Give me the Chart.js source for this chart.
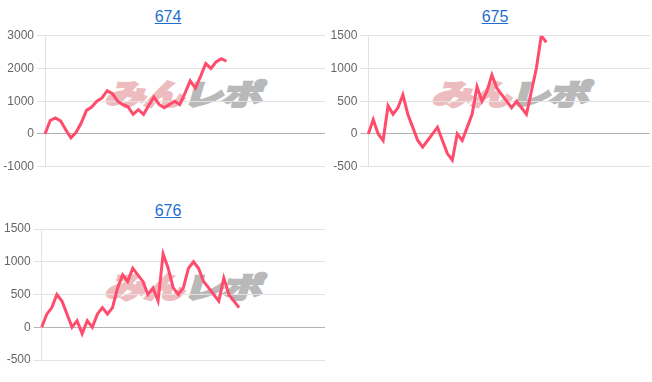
<!DOCTYPE html>
<html><head><meta charset="utf-8">
<script src="https://cdn.jsdelivr.net/npm/chart.js@4/dist/chart.umd.min.js"></script>
<style>
html,body{margin:0;padding:0;background:#fff;width:652px;height:382px;overflow:hidden;}
.ttl{position:absolute;width:100px;text-align:center;font-family:"Liberation Sans",Arial,sans-serif;font-size:16px;line-height:16px;}
.ttl a{color:#1f6fd1;text-decoration:underline;}
.wm{position:absolute;width:180px;height:40px;font-family:"Noto Sans CJK JP",sans-serif;font-weight:bold;font-size:40px;line-height:40px;white-space:nowrap;transform:skewX(-16deg) scaleY(0.72);transform-origin:left center;letter-spacing:-1px;}
.wm .p{color:#edbcbf;-webkit-text-stroke:4px #edbcbf;}
.wm .g{color:#b9b9b9;-webkit-text-stroke:4px #b9b9b9;}
canvas{position:absolute;}
</style></head>
<body>
<div class="wm" style="left:108px;top:73px;"><span class="p">みん</span><span class="g">レポ</span></div>
<div class="wm" style="left:435px;top:73px;"><span class="p">みん</span><span class="g">レポ</span></div>
<div class="wm" style="left:108px;top:266px;"><span class="p">みん</span><span class="g">レポ</span></div>

<div class="ttl" style="left:118px;top:9px;"><a href="#">674</a></div>
<div class="ttl" style="left:445px;top:9px;"><a href="#">675</a></div>
<div class="ttl" style="left:118px;top:203px;"><a href="#">676</a></div>

<canvas id="c674" width="330" height="160" style="left:0;top:20px;"></canvas>
<canvas id="c675" width="326" height="160" style="left:326px;top:20px;"></canvas>
<canvas id="c676" width="330" height="160" style="left:0;top:213px;"></canvas>

<script>
// Series values (difference per sample)
const titles = ["674", "675", "676"];
const values674 = [0, 410, 490, 400, 130, -120, 50, 340, 720, 820, 1000, 1100, 1320, 1230, 1000, 900, 830, 600, 740, 600, 870, 1130, 900, 800, 900, 1000, 900, 1250, 1620, 1400, 1760, 2150, 2000, 2200, 2300, 2220];
const values675 = [0, 220, 0, -100, 430, 300, 400, 600, 300, 100, -100, -200, -100, 0, 100, -100, -300, -400, 0, -100, 100, 300, 720, 500, 650, 900, 700, 600, 500, 400, 500, 400, 300, 650, 1000, 1500, 1400];
const values676 = [0, 200, 300, 500, 400, 200, 0, 100, -100, 100, 0, 200, 300, 200, 300, 600, 800, 700, 900, 800, 700, 500, 600, 400, 1120, 900, 600, 500, 600, 900, 1000, 900, 700, 600, 500, 400, 750, 500, 400, 300];
// Category counts of each x axis (labels are hidden)
const labelCount674 = 55;
const labelCount675 = 58;
const labelCount676 = 57;
const labels674 = Array.from({length: labelCount674}, (_, i) => String(i + 1));
const labels675 = Array.from({length: labelCount675}, (_, i) => String(i + 1));
const labels676 = Array.from({length: labelCount676}, (_, i) => String(i + 1));
// Y tick ranges [min, max, step]
const yRange674 = [-1000, 3000, 1000];
const yRange675 = [-500, 1500, 500];
const yRange676 = [-500, 1500, 500];

function makeChart(id, labels, values, range, axisW, pad) {
  return new Chart(document.getElementById(id), {
    type: 'line',
    data: {
      labels: labels,
      datasets: [{
        data: values,
        borderColor: '#ff4b6c',
        borderWidth: 3,
        pointRadius: 0,
        tension: 0,
        fill: false
      }]
    },
    options: {
      responsive: false,
      animation: false,
      plugins: {legend: {display: false}, tooltip: {enabled: false}},
      layout: {padding: pad},
      scales: {
        x: {display: false},
        y: {
          min: range[0], max: range[1],
          ticks: {stepSize: range[2], color: '#666', callback: (v) => String(v),
                  font: {family: '"Liberation Sans", Arial, sans-serif', size: 12}},
          grid: {color: (c) => (c.tick && c.tick.value === 0) ? '#b3b3b3' : '#e2e2e2'},
          border: {color: '#e2e2e2'},
          afterFit: (s) => { s.width = axisW; }
        }
      }
    }
  });
}

makeChart('c674', labels674, values674, yRange674, 45, {top: 15.7, bottom: 13.3, left: 0, right: 5});
makeChart('c675', labels675, values675, yRange675, 42.3, {top: 15.7, bottom: 13.3, left: 0, right: 2});
makeChart('c676', labels676, values676, yRange676, 41.7, {top: 16, bottom: 13, left: 0, right: 5});
</script>
</body></html>
